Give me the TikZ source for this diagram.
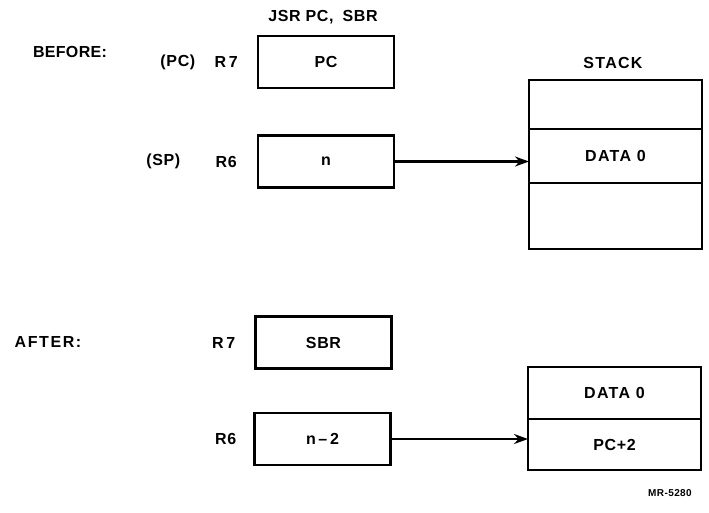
\documentclass[tikz,border=0pt]{standalone}
\usepackage{fontspec}
\setmainfont[LetterSpace=4]{Liberation Sans}
\usetikzlibrary{arrows.meta, positioning}

\begin{document}
\begin{tikzpicture}[
    x=1pt, y=-1pt,
    node distance=14pt and 18pt,
    reg/.style={
        rectangle, draw=black, line width=2.4pt,
        minimum width=136pt, minimum height=52pt,
        outer sep=0pt, font=\fontsize{16}{18}\selectfont\bfseries
    },
    cell/.style={
        rectangle, draw=black, line width=2.4pt,
        minimum width=173pt, minimum height=#1,
        outer sep=0pt, font=\fontsize{16}{18}\selectfont\bfseries
    },
    txt/.style={font=\fontsize{16}{18}\selectfont\bfseries, inner sep=1pt},
    arrow/.style={-{Stealth[length=14pt, width=10pt]}, line width=2.2pt}
]
\useasboundingbox (0,0) rectangle (709,512);

% Before
\node[txt] (instr) at (323,17) {JSR\hspace{5pt}PC,\hspace{9pt}SBR};
\node[txt] (before) at (70,52) {\addfontfeatures{LetterSpace=2}BEFORE:};
\node[reg] (r7a) at (326,62) {PC};
\node[txt, left=19pt of r7a] (r7alab) {R\,7};
\node[txt, left=17pt of r7alab] (pc) {(PC)};
\node[reg] (r6a) at (326,161.5) {n};
\node[txt, left=20pt of r6a] (r6alab) {R6};
\node[txt, left=33pt of r6alab] (sp) {(SP)};

% Stack before
\node[txt] (stack) at (613,63) {\addfontfeatures{LetterSpace=8}STACK};
\node[cell=49pt] (s1) at (615.5,104.5) {};
\node[cell=54pt, below=0pt of s1] (s2) {\addfontfeatures{LetterSpace=8}DATA 0};
\node[cell=66pt, below=0pt of s2] (s3) {};

% After
\node[txt] (after) at (48,342) {\addfontfeatures{LetterSpace=10}AFTER:};
\node[reg] (r7b) at (323.5,342.5) {SBR};
\node[txt, left=19pt of r7b] (r7blab) {R\,7};
\node[reg] (r6b) at (322.5,439) {n\,–\,2};
\node[txt, left=17pt of r6b] (r6blab) {R6};

% Stack after
\node[cell=52pt] (t1) at (614.5,393) {\addfontfeatures{LetterSpace=8}DATA 0};
\node[cell=51pt, below=0pt of t1] (t2) {PC+2};

\node[font=\fontsize{10}{11}\selectfont\bfseries] (mr) at (670,493) {MR-5280};

% Arrows
\draw[arrow] (r6a) -- (r6a -| s2.west);
\draw[arrow] (r6b) -- (r6b -| t2.west);

\end{tikzpicture}
\end{document}
